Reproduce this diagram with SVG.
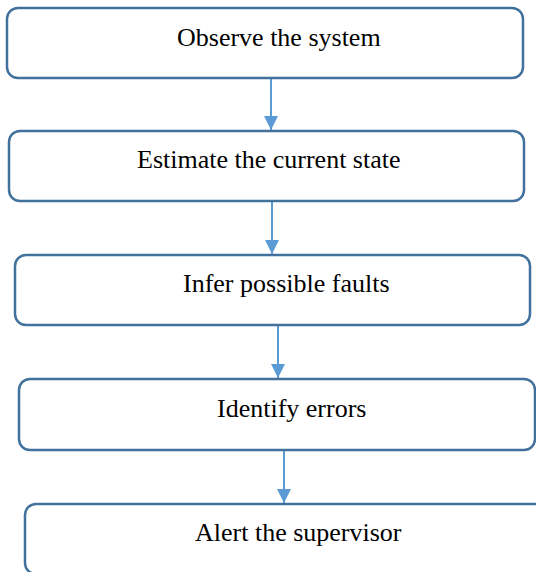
<svg xmlns="http://www.w3.org/2000/svg" width="536" height="572" viewBox="0 0 536 572">
  <defs>
    <marker id="head" markerUnits="userSpaceOnUse" markerWidth="15" markerHeight="15" refX="14" refY="7" orient="auto">
      <path d="M0,0 L14,7 L0,14 Z" fill="#5B9BD5"/>
    </marker>
    <style>
      .box { fill: #FFFFFF; stroke: #41719C; stroke-width: 2.5; }
      .lbl { font-family: "Liberation Serif", "Times New Roman", serif; font-size: 26px; fill: #000000; }
      .link { stroke: #5B9BD5; stroke-width: 2; fill: none; marker-end: url(#head); }
    </style>
  </defs>
  <rect width="536" height="572" fill="#FFFFFF"/>

  <g id="connectors">
    <line class="link" x1="271" y1="79" x2="271" y2="130"/>
    <line class="link" x1="272" y1="202" x2="272" y2="254"/>
    <line class="link" x1="278" y1="326" x2="278" y2="378"/>
    <line class="link" x1="284" y1="451" x2="284" y2="503"/>
  </g>

  <g id="observe">
    <rect class="box" x="7" y="8" width="516" height="70" rx="11"/>
    <text class="lbl" x="177" y="46">Observe the system</text>
  </g>
  <g id="estimate">
    <rect class="box" x="9" y="131" width="515" height="70" rx="11"/>
    <text class="lbl" x="137" y="168">Estimate the current state</text>
  </g>
  <g id="infer">
    <rect class="box" x="15" y="255" width="515" height="70" rx="11"/>
    <text class="lbl" x="183" y="292">Infer possible faults</text>
  </g>
  <g id="identify">
    <rect class="box" x="19" y="379" width="516" height="71" rx="11"/>
    <text class="lbl" x="217" y="417">Identify errors</text>
  </g>
  <g id="alert">
    <rect class="box" x="25" y="504" width="522" height="70" rx="11"/>
    <text class="lbl" x="195" y="541">Alert the supervisor</text>
  </g>
</svg>
